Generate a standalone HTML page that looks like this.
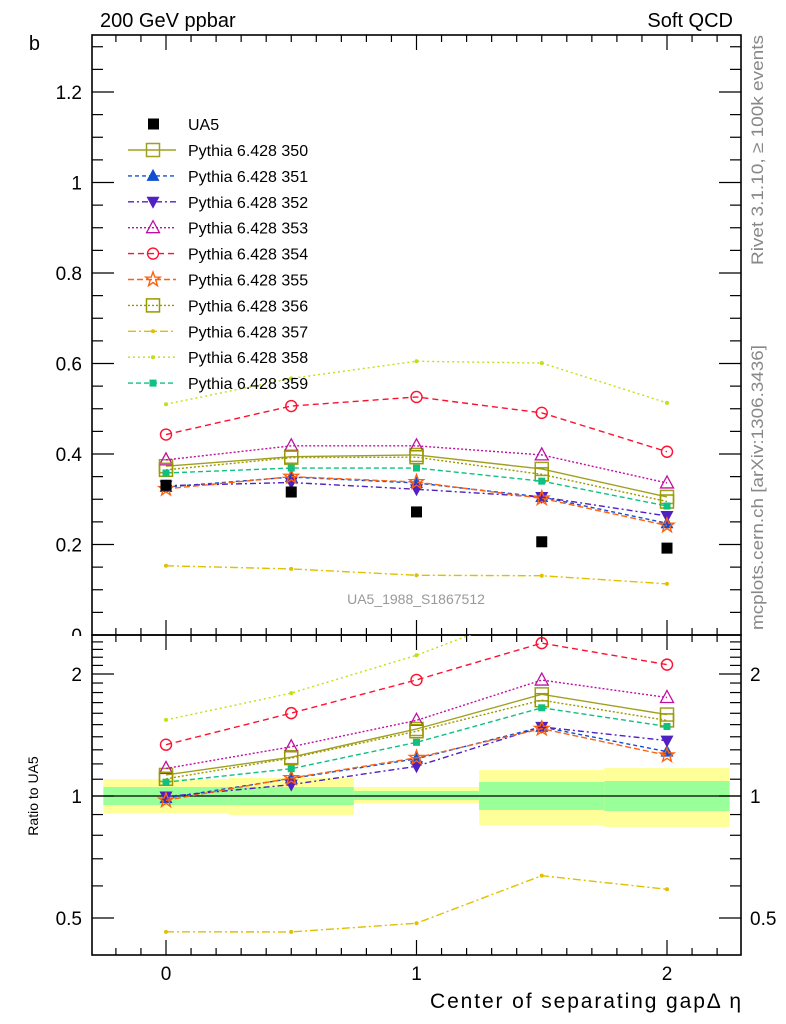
<!DOCTYPE html>
<html><head><meta charset="utf-8"><style>
html,body{margin:0;padding:0;background:#fff;}
svg{display:block;font-family:"Liberation Sans",sans-serif;}
</style></head><body>
<svg id="chart" width="786" height="1024" viewBox="0 0 786 1024" xmlns="http://www.w3.org/2000/svg">
<defs><clipPath id="mainclip"><rect x="92" y="35" width="649" height="600"/></clipPath>
<clipPath id="ratioclip"><rect x="92" y="635" width="649" height="320"/></clipPath>
<clipPath id="zeroclip"><rect x="0" y="0" width="92" height="636"/></clipPath></defs>
<g id="bands" clip-path="url(#ratioclip)"></g>
<g id="axes"></g>
<g id="series"></g>
<g id="legend"></g>
<text x="100" y="27" font-size="20">200 GeV ppbar</text>
<text x="733" y="27" font-size="20" text-anchor="end">Soft QCD</text>
<text x="40" y="50" font-size="20" text-anchor="end">b</text>
<text x="430" y="1008" font-size="21" textLength="311" lengthAdjust="spacing">Center of separating gapΔ η</text>
<text transform="translate(38,796) rotate(-90)" font-size="14" text-anchor="middle">Ratio to UA5</text>
<text transform="translate(763,265) rotate(-90)" font-size="17" fill="#888" textLength="230" lengthAdjust="spacingAndGlyphs">Rivet 3.1.10, ≥ 100k events</text>
<text transform="translate(763,630) rotate(-90)" font-size="17" fill="#888" textLength="285" lengthAdjust="spacingAndGlyphs">mcplots.cern.ch [arXiv:1306.3436]</text>
<text x="416" y="604" font-size="14" fill="#999" text-anchor="middle">UA5_1988_S1867512</text>
</svg>
<script>
const xCats=[0,0.5,1,1.5,2];
const ua5=[0.331,0.316,0.272,0.206,0.192];
const s350=[0.373,0.394,0.398,0.367,0.305];
const s351=[0.327,0.349,0.336,0.305,0.247];
const s352=[0.330,0.337,0.322,0.305,0.263];
const s353=[0.387,0.418,0.418,0.398,0.336];
const s354=[0.443,0.506,0.526,0.491,0.405];
const s355=[0.323,0.350,0.338,0.302,0.242];
const s356=[0.365,0.392,0.393,0.355,0.295];
const s357=[0.153,0.146,0.132,0.131,0.113];
const s358=[0.510,0.567,0.605,0.601,0.513];
const s359=[0.358,0.369,0.369,0.340,0.285];
const binLo=[-0.25,0.25,0.75,1.25,1.75];
const binHi=[0.25,0.75,1.25,1.75,2.25];
const totLo=[0.908,0.898,0.961,0.848,0.839];
const totHi=[1.101,1.108,1.052,1.159,1.172];
const statLo=[0.950,0.950,0.978,0.924,0.918];
const statHi=[1.052,1.052,1.029,1.083,1.089];
const mainTicks=[0,0.2,0.4,0.6,0.8,1,1.2];
const mainTickLabels=["0","0.2","0.4","0.6","0.8","1","1.2"];
const ratioTicks=[0.5,1,2];
const ratioTickLabels=["0.5","1","2"];
const xTicks=[0,1,2];
const xTickLabels=["0","1","2"];

const NS="http://www.w3.org/2000/svg";
const X0=92,X1=741,MT=35,MB=635,RB=955;
const xs=v=>166+(v-0)*250.5;
const ym=v=>635-v*452.5;
const yr=v=>796-122*Math.log2(v);
function mk(tag,attrs,parent){const e=document.createElementNS(NS,tag);for(const k in attrs)e.setAttribute(k,attrs[k]);parent.appendChild(e);return e;}
const axes=document.getElementById('axes'),series=document.getElementById('series'),bands=document.getElementById('bands'),legend=document.getElementById('legend');

for(let i=0;i<binLo.length;i++){
 const r=mk('rect',{x:xs(binLo[i]),y:yr(totHi[i]),width:xs(binHi[i])-xs(binLo[i]),height:yr(totLo[i])-yr(totHi[i]),fill:'#ffff99'},bands);
 
 
 const g=mk('rect',{x:xs(binLo[i]),y:yr(statHi[i]),width:xs(binHi[i])-xs(binLo[i]),height:yr(statLo[i])-yr(statHi[i]),fill:'#99ff99'},bands);
 
 
}
mk('line',{x1:X0,x2:X1,y1:yr(1),y2:yr(1),stroke:'#000','stroke-width':1.3},bands);

for(const [t,b] of [[MT,MB],[MB,RB]]){
 const f=mk('rect',{x:X0,y:t,width:X1-X0,height:b-t,fill:'none',stroke:'#000','stroke-width':1.6},axes);
 
 
}
for(let k=-3;k<=23;k++){
 const v=k/10,x=xs(v);if(x<X0+1||x>X1-1)continue;
 const maj=Math.abs(v-Math.round(v))<1e-6;const L=maj?15:7;
 for(const [y,d] of [[MT,1],[MB,-1],[MB,1],[RB,-1]]) mk('line',{x1:x,x2:x,y1:y,y2:y+d*L,stroke:'#000','stroke-width':1.2},axes);
}
xTicks.forEach((v,i)=>{const t=mk('text',{x:xs(v),y:980,'font-size':19,'text-anchor':'middle'},axes);t.textContent=xTickLabels[i];
 
 });
for(let k=0;k<=26;k++){
 const v=k*0.05,y=ym(v);if(y<MT+1||y>MB-1)continue;
 const maj=k%4===0;const L=maj?22:11;
 mk('line',{x1:X0,x2:X0+L,y1:y,y2:y,stroke:'#000','stroke-width':1.2},axes);
 mk('line',{x1:X1,x2:X1-L,y1:y,y2:y,stroke:'#000','stroke-width':1.2},axes);
}
const zg=mk('g',{'clip-path':'url(#zeroclip)'},axes);
mainTicks.forEach((v,i)=>{const t=mk('text',{x:82,y:ym(v)+7,'font-size':19,'text-anchor':'end'},i===0?zg:axes);t.textContent=mainTickLabels[i];
 
 });
const rt=[0.5,0.6,0.7,0.8,0.9,1,1.1,1.2,1.3,1.4,1.5,1.6,1.7,1.8,1.9,2,2.1,2.2,2.3,2.4];
rt.forEach(v=>{const y=yr(v);const maj=(v===0.5||v===1||v===2);const L=maj?22:11;
 mk('line',{x1:X0,x2:X0+L,y1:y,y2:y,stroke:'#000','stroke-width':1.2},axes);
 mk('line',{x1:X1,x2:X1-L,y1:y,y2:y,stroke:'#000','stroke-width':1.2},axes);});
ratioTicks.forEach((v,i)=>{
 const t=mk('text',{x:82,y:yr(v)+7,'font-size':19,'text-anchor':'end'},axes);t.textContent=ratioTickLabels[i];
 
 
 const t2=mk('text',{x:750,y:yr(v)+7,'font-size':19},axes);t2.textContent=ratioTickLabels[i];
 
 });

function marker(g,type,x,y,c){
 if(type==='osq'){mk('rect',{x:x-6.5,y:y-6.5,width:13,height:13,fill:'none',stroke:c,'stroke-width':1.5},g);}
 else if(type==='tri'){mk('polygon',{points:`${x},${y-7} ${x+6.5},${y+5} ${x-6.5},${y+5}`,fill:c},g);}
 else if(type==='itri'){mk('polygon',{points:`${x},${y+7} ${x+6.5},${y-5} ${x-6.5},${y-5}`,fill:c},g);}
 else if(type==='otri'){mk('polygon',{points:`${x},${y-7} ${x+6.5},${y+5} ${x-6.5},${y+5}`,fill:'none',stroke:c,'stroke-width':1.3},g);}
 else if(type==='circ'){mk('circle',{cx:x,cy:y,r:5.5,fill:'none',stroke:c,'stroke-width':1.4},g);}
 else if(type==='star'){let p=[];for(let i=0;i<10;i++){const r=i%2?3:7.5,a=-Math.PI/2+i*Math.PI/5;p.push((x+r*Math.cos(a)).toFixed(1)+','+(y+r*Math.sin(a)).toFixed(1));}
  mk('polygon',{points:p.join(' '),fill:'none',stroke:c,'stroke-width':1.4},g);}
 else if(type==='dot'){mk('circle',{cx:x,cy:y,r:2,fill:c},g);}
 else if(type==='fsqs'){mk('rect',{x:x-3.5,y:y-3.5,width:7,height:7,fill:c},g);}
}
const defs=[
 {n:'350',d:s350,c:'#a0a020',dash:'',m:'osq'},
 {n:'351',d:s351,c:'#1050d0',dash:'4,3',m:'tri'},
 {n:'352',d:s352,c:'#5020c0',dash:'6,3,2,3',m:'itri'},
 {n:'353',d:s353,c:'#c010a0',dash:'2,2',m:'otri'},
 {n:'354',d:s354,c:'#ff1030',dash:'6,4',m:'circ'},
 {n:'355',d:s355,c:'#ff6010',dash:'6,3',m:'star'},
 {n:'356',d:s356,c:'#999900',dash:'2,2',m:'osq'},
 {n:'357',d:s357,c:'#e0c000',dash:'8,3,2,3',m:'dot'},
 {n:'358',d:s358,c:'#c0e010',dash:'2,3',m:'dot'},
 {n:'359',d:s359,c:'#10c080',dash:'5,3',m:'fsqs'}
];
const mg=mk('g',{'clip-path':'url(#mainclip)'},series);
const rg=mk('g',{'clip-path':'url(#ratioclip)'},series);
defs.forEach(s=>{
 const g=mk('g',{},mg);
 
 
 const pts=xCats.map((v,i)=>xs(v)+','+ym(s.d[i])).join(' ');
 mk('polyline',{points:pts,fill:'none',stroke:s.c,'stroke-width':1.4,'stroke-dasharray':s.dash},g);
 xCats.forEach((v,i)=>marker(g,s.m,xs(v),ym(s.d[i]),s.c));
 const g2=mk('g',{},rg);
 
 
 const rp=xCats.map((v,i)=>xs(v)+','+yr(s.d[i]/ua5[i])).join(' ');
 mk('polyline',{points:rp,fill:'none',stroke:s.c,'stroke-width':1.4,'stroke-dasharray':s.dash},g2);
 xCats.forEach((v,i)=>marker(g2,s.m,xs(v),yr(s.d[i]/ua5[i]),s.c));
});
const ug=mk('g',{},mg);


xCats.forEach((v,i)=>{const r=mk('rect',{x:xs(v)-5.5,y:ym(ua5[i])-5.5,width:11,height:11,fill:'#000'},ug);
 
 });

let ly=124;
{const e=mk('g',{},legend);
 
 
 mk('rect',{x:148,y:ly-5.5,width:11,height:11,fill:'#000'},e);
 const t=mk('text',{x:188,y:ly+6,'font-size':16},e);t.textContent='UA5';}
defs.forEach((s,i)=>{
 const y=150+i*25.9;
 const e=mk('g',{},legend);
 
 
 mk('line',{x1:128,x2:176,y1:y,y2:y,stroke:s.c,'stroke-width':1.4,'stroke-dasharray':s.dash},e);
 marker(e,s.m,153,y,s.c);
 const t=mk('text',{x:188,y:y+6,'font-size':16},e);t.textContent='Pythia 6.428 '+s.n;
});
</script>
</body></html>
